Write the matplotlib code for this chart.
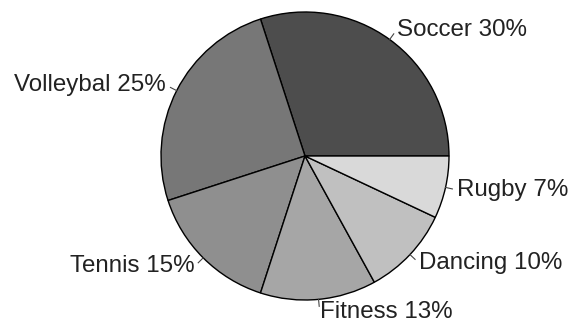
import numpy as np
import matplotlib
matplotlib.use('Agg')
import matplotlib.pyplot as plt

# sport shares, counter-clockwise from 3 o'clock
sports = ['Soccer', 'Volleybal', 'Tennis', 'Fitness', 'Dancing', 'Rugby']
shares = [30, 25, 15, 13, 10, 7]
shades = ['#4d4d4d', '#777777', '#8f8f8f', '#a6a6a6', '#c0c0c0', '#d9d9d9']

plt.rcParams['font.family'] = ['Liberation Sans', 'DejaVu Sans']

W, H = 572, 327
fig = plt.figure(figsize=(W / 100, H / 100), dpi=100)
ax = fig.add_axes([0, 0, 1, 1])

cx, cy, r = 305, H - 156, 144
labels = [f'{s} {v}%' for s, v in zip(sports, shares)]

wedges, texts = ax.pie(shares, labels=labels, colors=shades, startangle=0,
                       counterclock=True, center=(cx, cy), radius=r,
                       labeldistance=1.085, frame=True,
                       wedgeprops=dict(edgecolor='black', linewidth=1.0),
                       textprops=dict(fontsize=17.4, color='#222222'))
ax.set_xlim(0, W)
ax.set_ylim(0, H)
ax.set_aspect('equal')
ax.axis('off')

# short leader ticks from the rim toward each label; align text by side
for w, t in zip(wedges, texts):
    mid = np.deg2rad((w.theta1 + w.theta2) / 2)
    t.set_ha('left' if np.cos(mid) > 0 else 'right')
    x0, y0 = cx + r * np.cos(mid), cy + r * np.sin(mid)
    x1, y1 = cx + (r + 7) * np.cos(mid), cy + (r + 7) * np.sin(mid)
    ax.plot([x0, x1], [y0, y1], color='#444444', linewidth=0.8)

fig.savefig('out.png', dpi=100)
